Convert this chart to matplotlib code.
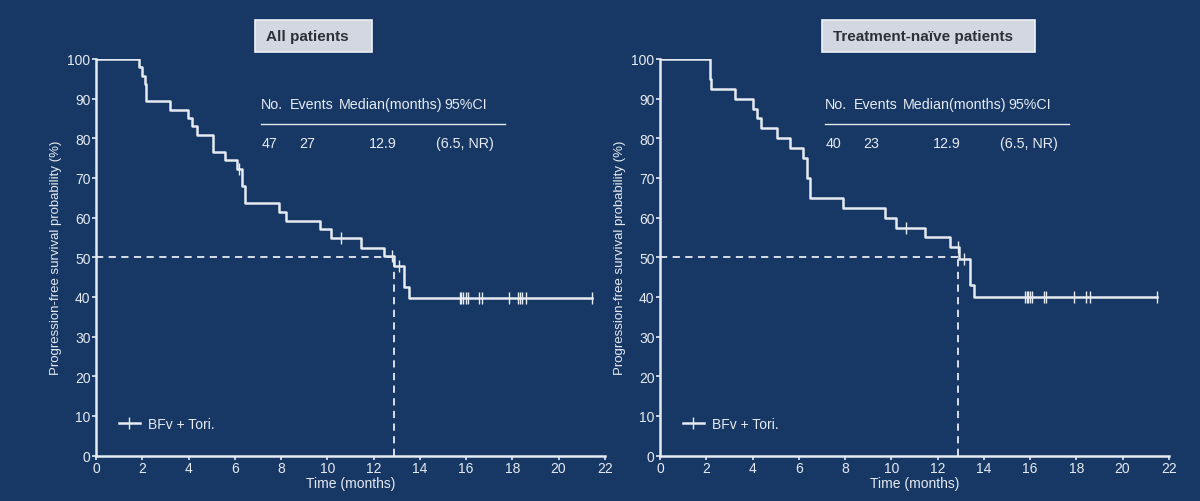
import matplotlib.pyplot as plt
from matplotlib.lines import Line2D
from matplotlib.patches import Rectangle
import numpy as np

plt.rcParams['font.family'] = ['Liberation Sans', 'DejaVu Sans']

BG = '#173764'
FG = '#e6ebf2'

# All patients (n=47)
all_t = [0, 1.87, 2.0, 2.1, 2.16, 3.2, 3.99, 4.14, 4.35, 5.07, 5.57, 6.08, 6.3, 6.44,
         7.91, 8.2, 9.68, 10.16, 11.45, 12.45, 12.9, 13.3, 13.54]
all_s = [100, 97.9, 95.7, 93.6, 89.4, 87.2, 85.1, 83.0, 80.9, 76.6, 74.5, 72.3, 68.0, 63.6,
         61.5, 59.2, 57.0, 54.8, 52.4, 50.2, 47.7, 42.6, 39.8]
all_cens = [6.2, 10.59, 12.8, 13.1, 15.73, 15.8, 15.87, 15.98, 16.09, 16.56, 16.68,
            17.86, 18.25, 18.32, 18.42, 18.61, 21.45]

# Treatment-naive patients (n=40)
tn_t = [0, 2.16, 2.2, 3.24, 4.0, 4.18, 4.36, 5.08, 5.62, 6.19, 6.34, 6.48, 7.92,
        9.75, 10.2, 11.45, 12.53, 12.93, 13.4, 13.57]
tn_s = [100, 95, 92.5, 90, 87.5, 85, 82.5, 80, 77.5, 75, 70, 65, 62.5,
        60, 57.5, 55, 52.5, 49.6, 43, 40]
tn_cens = [10.62, 12.89, 13.14, 15.77, 15.85, 15.92, 15.99, 16.1, 16.61, 16.71,
           17.89, 18.44, 18.61, 21.49]

panels = [
    ('All patients', all_t, all_s, all_cens, ['47', '27', '12.9', '(6.5, NR)'], 12.9),
    ('Treatment-naïve patients', tn_t, tn_s, tn_cens, ['40', '23', '12.9', '(6.5, NR)'], 12.9),
]

fig = plt.figure(figsize=(12, 5.02), dpi=100, facecolor=BG)
lefts = [0.08, 0.55]
# title boxes (figure fraction): x0, width
boxes = [(0.2125, 0.0972), (0.6848, 0.1777)]

for left, box, (title, t, s, cens, row, med) in zip(lefts, boxes, panels):
    ax = fig.add_axes([left, 0.0906, 0.424, 0.7899])
    ax.set_facecolor(BG)
    t = np.array(t)
    s = np.array(s)
    cens = np.array(cens)
    tt = np.append(t, cens.max())
    ss = np.append(s, s[-1])
    ax.step(tt, ss, where='post', color=FG, lw=1.8, zorder=3)
    cs = s[np.searchsorted(t, cens, side='right') - 1]
    ax.plot(cens, cs, ls='none', marker='|', ms=8, mew=1.0, color=FG, zorder=4)

    ax.plot([0, med], [50, 50], color=FG, lw=1.3, ls=(0, (4, 3)), zorder=2)
    ax.plot([med, med], [0, 50], color=FG, lw=1.3, ls=(0, (4, 3)), zorder=2)

    ax.set_xlim(0, 22)
    ax.set_ylim(0, 100)
    ax.set_xticks(np.arange(0, 23, 2))
    ax.set_yticks(np.arange(0, 101, 10))
    for sp in ['top', 'right']:
        ax.spines[sp].set_visible(False)
    for sp in ['left', 'bottom']:
        ax.spines[sp].set_color(FG)
        ax.spines[sp].set_linewidth(1.8)
    ax.tick_params(colors=FG, labelsize=10, length=3, width=1.2, pad=1)
    ax.set_xlabel('Time (months)', color=FG, fontsize=10, labelpad=1)
    ax.set_ylabel('Progression-free survival probability (%)', color=FG, fontsize=9.5, labelpad=4)

    h = Line2D([], [], color=FG, lw=1.8, marker='|', ms=8, mew=1.0)
    ax.legend([h], ['BFv + Tori.'], loc='lower left', bbox_to_anchor=(0.02, 0.03),
              frameon=False, fontsize=10, labelcolor=FG, handlelength=1.5, handletextpad=0.6)

    # summary table
    x0 = 0.325
    hdr = [('No.', 0.0), ('Events', 0.056), ('Median(months)', 0.152), ('95%CI', 0.36)]
    for txt, dx in hdr:
        ax.text(x0 + dx, 0.886, txt, transform=ax.transAxes, color=FG, fontsize=10.3, va='center')
    ax.plot([x0, x0 + 0.478], [0.835, 0.835], transform=ax.transAxes, color=FG, lw=1.0, clip_on=False)
    for txt, dx in zip(row, [0.0, 0.075, 0.212, 0.343]):
        ax.text(x0 + dx, 0.788, txt, transform=ax.transAxes, color=FG, fontsize=10.3, va='center')

    # title box
    bx, bw = box
    fig.patches.append(Rectangle((bx, 0.8944), bw, 0.0630, transform=fig.transFigure,
                                 facecolor='#d2d7e1', edgecolor='#eef1f6', lw=1.2))
    fig.text(bx + 0.0095, 0.9265, title, ha='left', va='center', fontsize=11,
             fontweight='bold', color='#2c3038')

fig.savefig('out.png', dpi=100, facecolor=BG)
